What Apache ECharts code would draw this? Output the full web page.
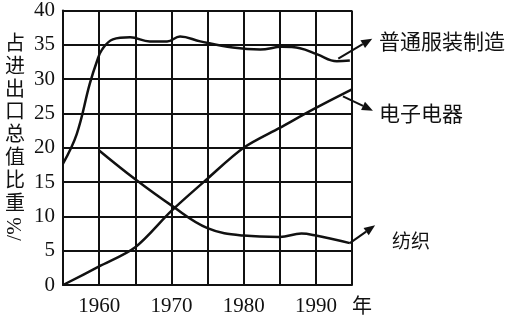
<!DOCTYPE html>
<html>
<head>
<meta charset="utf-8">
<script src="https://cdn.jsdelivr.net/npm/echarts@6/dist/echarts.min.js"></script>
<style>
  html, body { margin: 0; padding: 0; background: #fff; }
  #main { width: 517px; height: 318px; }
</style>
</head>
<body>
<div id="main"></div>
<script>
var years = [1955, 1960, 1965, 1970, 1975, 1980, 1985, 1990, 1995];
var yTicks = [0, 5, 10, 15, 20, 25, 30, 35, 40];

// 普通服装制造
var clothYears = [1955, 1956.9, 1958.7, 1959.7, 1960.4, 1961.9, 1964.3, 1967, 1969.4, 1971.2, 1974, 1978.5, 1982.3, 1985.3, 1987.8, 1990.2, 1992.9, 1994.7];
var clothVals  = [17.7, 22, 29.3, 32.6, 34.3, 35.8, 36.1, 35.5, 35.5, 36.2, 35.5, 34.6, 34.3, 34.7, 34.5, 33.6, 32.6, 32.7];

// 电子电器
var elecYears = [1955, 1960, 1965, 1970, 1975, 1980, 1985, 1990, 1995];
var elecVals  = [0, 2.7, 5.5, 10.8, 15.5, 20, 22.9, 25.8, 28.5];

// 纺织
var textYears = [1960, 1965, 1970, 1975, 1980, 1985, 1988, 1990, 1994.7];
var textVals  = [19.6, 15.4, 11.6, 8.3, 7.2, 7.0, 7.5, 7.2, 6.1];

// annotation arrows: [tailYear, tailVal, tipYear, tipVal]
var arrows = [
    [1993.1, 33.0, 1997.8, 35.9],
    [1993.75, 27.5, 1997.9, 25.4],
    [1994.7, 6.1, 1998.2, 8.7]
];

function pairs(xs, ys) {
    return xs.map(function (x, i) { return [x, ys[i]]; });
}

var numFont = '"Liberation Serif", "DejaVu Serif", serif';
var cjkFont = '"Noto Sans CJK SC", sans-serif';

var myChart = echarts.init(document.getElementById('main'));

var lineStyle = { color: '#111', width: 2.5 };

var option = {
    backgroundColor: '#fff',
    animation: false,
    grid: { left: 63, right: 165, top: 9, bottom: 33 },
    xAxis: {
        type: 'value',
        min: years[0],
        max: years[years.length - 1],
        interval: 5,
        axisLine: { show: true, lineStyle: { color: '#111', width: 2 } },
        axisTick: { show: false },
        splitLine: { show: true, lineStyle: { color: '#111', width: 2 } },
        axisLabel: {
            margin: 11,
            color: '#111',
            fontFamily: numFont,
            fontSize: 21,
            formatter: function (v) { return v % 10 === 0 ? String(v) : ''; }
        }
    },
    yAxis: {
        type: 'value',
        min: yTicks[0],
        max: yTicks[yTicks.length - 1],
        interval: 5,
        axisLine: { show: true, lineStyle: { color: '#111', width: 2 } },
        axisTick: { show: false },
        splitLine: { show: true, lineStyle: { color: '#111', width: 2 } },
        axisLabel: {
            margin: 8,
            color: '#111',
            fontFamily: numFont,
            fontSize: 21
        }
    },
    series: [{
        name: '普通服装制造',
        type: 'line',
        data: pairs(clothYears, clothVals),
        smooth: 0.4,
        showSymbol: false,
        lineStyle: lineStyle
    }, {
        name: '电子电器',
        type: 'line',
        data: pairs(elecYears, elecVals),
        smooth: 0.3,
        showSymbol: false,
        lineStyle: lineStyle
    }, {
        name: '纺织',
        type: 'line',
        data: pairs(textYears, textVals),
        smooth: 0.4,
        showSymbol: false,
        lineStyle: lineStyle
    }]
};
myChart.setOption(option);

// arrows + labels
var graphics = [];
arrows.forEach(function (a) {
    var p0 = myChart.convertToPixel({ gridIndex: 0 }, [a[0], a[1]]);
    var p1 = myChart.convertToPixel({ gridIndex: 0 }, [a[2], a[3]]);
    var ang = Math.atan2(p1[1] - p0[1], p1[0] - p0[0]);
    var len = 11, half = 4.5;
    var bx = p1[0] - len * Math.cos(ang), by = p1[1] - len * Math.sin(ang);
    graphics.push({
        type: 'line',
        shape: { x1: p0[0], y1: p0[1], x2: bx, y2: by },
        style: { stroke: '#111', lineWidth: 2 }
    });
    graphics.push({
        type: 'polygon',
        shape: { points: [
            [p1[0], p1[1]],
            [bx + half * Math.sin(ang), by - half * Math.cos(ang)],
            [bx - half * Math.sin(ang), by + half * Math.cos(ang)]
        ] },
        style: { fill: '#111' }
    });
});

graphics.push({ type: 'text', left: 379, top: 31, style: { text: '普通服装制造', fontFamily: cjkFont, fontSize: 21, fill: '#111' } });
graphics.push({ type: 'text', left: 379, top: 103, style: { text: '电子电器', fontFamily: cjkFont, fontSize: 21, fill: '#111' } });
graphics.push({ type: 'text', left: 392, top: 231, style: { text: '纺织', fontFamily: cjkFont, fontSize: 19, fill: '#111' } });
graphics.push({ type: 'text', left: 352, top: 295, style: { text: '年', fontFamily: cjkFont, fontSize: 20, fill: '#111' } });
graphics.push({
    type: 'text', left: 5, top: 31,
    style: { text: '占\n进\n出\n口\n总\n值\n比\n重', fontFamily: cjkFont, fontSize: 20, lineHeight: 22.8, fill: '#111' }
});
graphics.push({
    type: 'text', x: 15, y: 229, rotation: Math.PI / 2,
    style: { text: '/%', fontFamily: numFont, fontSize: 21, fill: '#111', align: 'center', verticalAlign: 'middle' }
});

myChart.setOption({ graphic: graphics });
</script>
</body>
</html>
